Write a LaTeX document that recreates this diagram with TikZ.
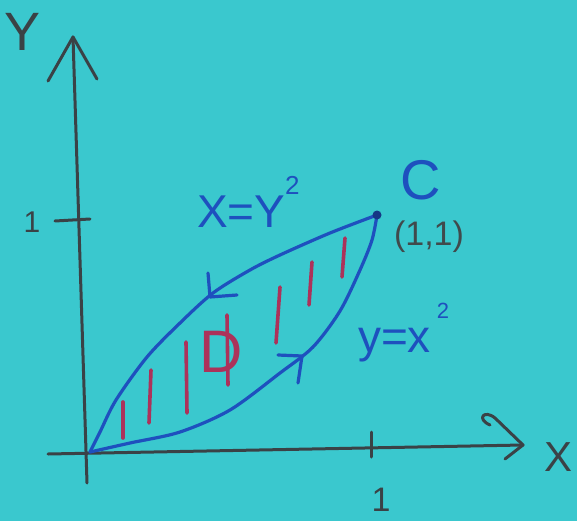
\documentclass[tikz,border=0pt]{standalone}
\usepackage{fontspec}
\setmainfont{Liberation Sans}
\definecolor{paper}{RGB}{58,200,206}
\definecolor{pen}{RGB}{30,80,190}
\definecolor{ink}{RGB}{58,66,70}
\definecolor{hatch}{RGB}{172,50,90}
\definecolor{note}{RGB}{64,74,76}
\begin{document}
\begin{tikzpicture}[x=1pt,y=-1pt,
  axis/.style={draw=ink,line width=3pt,line cap=round,line join=round},
  curve/.style={draw=pen,line width=3.2pt,line cap=round,line join=round},
  hatchline/.style={draw=hatch,line width=3.6pt,line cap=round},
  lab/.style={inner sep=0pt,outer sep=0pt},
  fs/.style={font=\fontsize{#1}{#1}\selectfont}]
\fill[paper] (0,0) rectangle (577,521);
\useasboundingbox (0,0) rectangle (577,521);
% key points
\coordinate (O) at (90,452);
\coordinate (C) at (377,215);
\coordinate (ytop) at (73,37);
\coordinate (ybot) at (87,483);
\coordinate (yw1) at (48,81);
\coordinate (yw2) at (97,79);
\coordinate (xleft) at (48,454);
\coordinate (xtip) at (523,445);
\coordinate (xw2) at (505,459);
% axes
\draw[axis] (ybot) -- (ytop);
\draw[axis] (yw1) -- (ytop) -- (yw2);
\draw[axis] (xleft) -- (xtip);
\draw[axis] (490,425) .. controls (476,419) and (484,409) .. (495,418) -- (xtip) -- (xw2);
\draw[axis] (55,221) -- (90,219);
\draw[axis] (371,432) -- (371,457);
% hatching
\draw[hatchline] (123,402) -- (123,438);
\draw[hatchline] (151,370) -- (149,423);
\draw[hatchline] (186,342) -- (187,413);
\draw[hatchline] (227,315) -- (228,385);
\draw[hatchline] (280,287) -- (276,343);
\draw[hatchline] (312,262) -- (309,305);
\draw[hatchline] (345,238) -- (342,277);
\node[lab,fs=60,text=hatch] (D) at (221,352) {D};
% curves
\draw[curve] plot[smooth] coordinates {(O) (130,443) (180,432) (230,410) (280,373) (313,347) (340,311) (360,270) (372,240) (C)};
\draw[curve] plot[smooth] coordinates {(O) (100,432) (116,400) (147,357) (180,323) (213,293) (250,270) (280,255) (330,233) (C)};
\coordinate (ut) at (210,297);
\draw[curve] (208,273) -- (ut) -- (237,295);
\coordinate (lt) at (302,356);
\draw[curve] (278,355) -- (lt) -- (298,383);
\fill[pen!70!black] (C) circle (4.5);
% labels
\node[lab,fs=54,text=ink] (ylab) at (23,32) {Y};
\node[lab,fs=42,text=ink] (xlab) at (558,457) {X};
\node[lab,fs=30,text=ink] (one1) at (32,222) {1};
\node[lab,fs=34,text=ink] (one2) at (381,500) {1};
\node[lab,fs=56,text=pen] (clab) at (421,180) {C};
\node[lab,fs=34,text=note] (pt) at (429,237) {(1,1)};
\node[lab,fs=46,text=pen,anchor=base west] (top) at (197,227) {X=Y\raisebox{33pt}{\fontsize{26}{26}\selectfont 2}};
\node[lab,fs=46,text=pen,anchor=base west] (bot) at (358,352) {y=x\hspace{6pt}\raisebox{34pt}{\fontsize{22}{22}\selectfont 2}};
\end{tikzpicture}
\end{document}
